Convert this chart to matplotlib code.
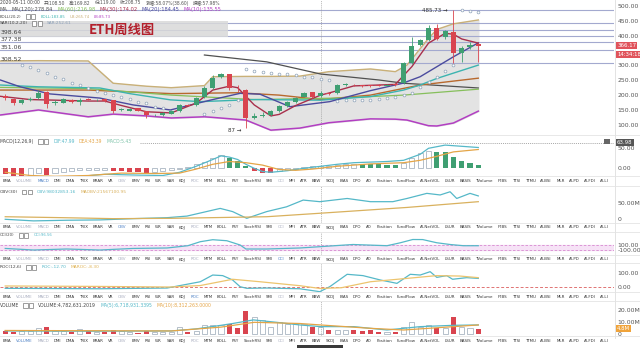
import numpy as np
import matplotlib
matplotlib.use("Agg")
import matplotlib.pyplot as plt
from matplotlib.patches import Rectangle
from matplotlib import font_manager as fm

_names = {f.name for f in fm.fontManager.ttflist}
NARROW = "Liberation Sans Narrow" if "Liberation Sans Narrow" in _names else "DejaVu Sans"
plt.rcParams["font.family"] = [NARROW, "Noto Sans CJK SC", "DejaVu Sans"]
plt.rcParams["axes.unicode_minus"] = False

# ── Data (weekly ETH candles) ───────────────────────────────────
OPEN = [197, 187, 172, 184, 189, 211, 172, 175, 183, 178, 187, 183, 186, 183, 151, 148,
        155, 146, 132, 132, 138, 146, 167, 167, 193, 225, 262, 270, 222, 217, 124, 130,
        133, 146, 164, 178, 195, 209, 197, 208, 206, 235, 234, 233, 232, 233, 232, 237,
        240, 309, 369, 385, 425, 395, 413, 343, 361, 371]
CLOSE = [190, 172, 183, 188, 208, 170, 178, 186, 176, 183, 185, 185, 180, 147, 153, 152,
         148, 133, 133, 140, 146, 167, 165, 191, 225, 259, 270, 223, 220, 124, 131, 134,
         146, 163, 178, 189, 208, 193, 208, 203, 234, 236, 233, 232, 231, 232, 235, 233,
         309, 365, 385, 425, 390, 417, 343, 357, 369, 366.17]
HIGH = [203, 190, 186, 192, 217, 213, 182, 190, 186, 190, 190, 188, 188, 185, 156, 155,
        157, 148, 136, 142, 149, 170, 170, 194, 230, 267, 275, 272, 235, 219, 140, 142,
        149, 166, 181, 192, 212, 212, 215, 212, 238, 240, 236, 235, 234, 236, 238, 240,
        312, 395, 390, 435, 440, 420, 485.73, 365, 378, 375]
LOW = [185, 168, 170, 181, 186, 157, 168, 173, 173, 167, 182, 181, 178, 140, 147, 146,
       145, 124, 128, 130, 136, 144, 162, 165, 190, 222, 258, 218, 210, 89, 118, 126,
       131, 143, 160, 175, 192, 190, 194, 199, 203, 230, 229, 228, 227, 229, 230, 230,
       237, 305, 365, 382, 384, 388, 308, 310, 355, 312]
VOLUME_M = [2.7, 2.2, 2.7, 2.7, 5.0, 5.8, 2.7, 2.7, 2.2, 4.4, 2.7, 2.2, 2.2, 3.6, 2.7, 2.2,
            1.5, 2.7, 2.2, 2.2, 2.2, 6.4, 2.2, 2.7, 7.8, 7.8, 7.8, 8.3, 5.6, 19.4, 14.7, 12.0,
            6.4, 10.0, 8.6, 8.6, 8.6, 6.4, 6.4, 3.6, 3.6, 3.6, 3.6, 2.7, 3.6, 2.2, 2.2, 2.2,
            6.4, 10.0, 6.4, 7.8, 5.0, 5.0, 14.7, 6.4, 5.6, 4.4]
MACD_HIST = [-15, -19, -21, -16, -11, -16, -12, -8, -6, -5, -4, -3.5, -3, -7, -7.5, -8.5,
             -9, -10.5, -9.5, -7, -5, -1, 4, 12, 17, 25, 33, 25, 19, 5, -6, -12,
             -12.5, -7, -3, -2, 3, 5, 6, 6.5, 9, 10, 12, 11.5, 11, 10, 9.5, 9,
             13, 27, 38, 44, 41, 40, 27.5, 19, 14, 8]

# price-panel lines: (candle index, price) knots
BOLL_IDX = [-0.6, 4, 10, 13, 17, 20, 24, 25, 29, 32, 35.5, 39, 44, 47, 48.4, 51, 52, 54, 57]
BOLL_UB = [315, 316, 315, 240, 230, 225, 232, 262, 263, 263, 264, 279, 288, 279, 301, 391, 421, 440, 453]
BOLL_LB = [133, 150, 127, 136, 130, 123, 127, 125, 116, 82, 89, 107, 120, 119, 116, 97, 96, 106, 146]
MA120_IDX = [24, 31.5, 38, 45, 48, 57]
MA120 = [335, 312, 271, 251, 240, 224]
MA5_IDX = [-0.6, 3, 6, 10, 12, 14, 17, 20, 23, 25, 27, 28, 30, 32, 33, 35, 38, 39, 42, 47, 49, 51, 53, 54, 55, 57]
MA5 = [196, 185, 183, 180, 180, 165, 144, 140, 173, 217, 230, 225, 167, 130, 135, 165, 200, 207, 231, 236, 296, 375, 408, 405, 389, 375]
MA10_IDX = [-0.6, 1.8, 5.4, 11.4, 15.4, 19.9, 24.7, 28.3, 30.7, 34.3, 39.1, 44, 47.9, 50, 54, 57]
MA10 = [251, 228, 204, 190, 167, 150, 183, 206, 203, 161, 178, 215, 240, 262, 329, 376]
MA20_IDX = [-0.6, 4, 11.4, 15, 19.9, 23.5, 30, 38, 44, 48, 50, 52, 57]
MA20 = [234, 228, 224, 205, 184, 178, 185, 183, 195, 217, 234, 256, 301]
MA60_IDX = [-0.6, 10, 20, 28, 33, 38, 44, 50, 57]
MA60 = [217, 217, 205, 208, 200, 185, 200, 234, 257]
MA30_IDX = [-0.6, 10, 20, 30, 40, 48, 57]
MA30 = [226, 222, 200, 185, 190, 200, 220]
SAR_IDX = list(range(2, 20)) + list(range(24, 58))
SAR = [301, 294, 285, 275, 262, 254, 242, 234, 223, 215, 206, 200, 195, 186, 178, 172, 161, 155,
       135, 148, 156, 167, 183,
       287, 281, 277, 274, 272, 270, 268, 262, 260, 253, 251,
       181, 183, 183, 184, 185, 187, 190, 195, 200, 206, 228, 245, 260, 282, 301,
       487, 484, 481]
FIB_LEVELS = [485.73, 443.9, 418.0, 398.64, 377.38, 351.06, 308.52]
FIB_LABELS = ["398.64", "377.38", "351.06", "308.52"]

# indicator panels
DIF_IDX = [0, 2, 5, 8, 12, 16, 19, 21, 23, 25, 26, 27, 28, 29, 30, 31, 32, 34, 36, 38, 40, 42, 46, 48, 50, 51, 53, 55, 57]
DIF = [-25, -30, -27, -22, -15, -17, -18, -10, 5, 22, 31, 28, 22, 10, 0, -8, -10, -6, 0, 5, 10, 14, 17, 20, 35, 50, 58, 55, 52]
DEA_IDX = [0, 3, 6, 10, 14, 18, 21, 23, 25, 27, 29, 31, 33, 35, 37, 40, 44, 48, 50, 52, 54, 57]
DEA = [-10, -18, -20, -18, -12, -13, -12, -2, 10, 17, 14, 8, -3, -5, -2, 5, 11, 14, 20, 30, 41, 47]
OBV_IDX = [0, 3.4, 7.4, 11.4, 15.4, 19.5, 21.9, 25.9, 27.4, 29.1, 31.5, 33.9, 35.9, 37.9, 41.2, 44, 46.7, 48.4, 50.8, 52.4, 53.6, 54.4, 56, 57]
OBV_M = [0, -5, -3, -2, 2, 5, 10, 34, 24, 3, 24, 39, 60, 55, 65, 55, 55, 65, 81, 76, 86, 65, 81, 73]
MAOBV_IDX = [0, 7, 13, 20, 27, 31.5, 38, 48.4, 57]
MAOBV_M = [8, 5, 2, 3, 6, 8, 19, 37, 55]
CCI_IDX = [0, 3.4, 7.4, 11.4, 15.4, 19.5, 22, 23.5, 25, 26.7, 28.3, 29, 31.5, 35.5, 37.9, 41.9, 46, 47.6, 49.1, 50.3, 52, 53.6, 55.2, 57]
CCI = [-36, -90, -55, -90, -36, -20, 58, 196, 265, 230, 83, -55, -55, -20, 24, 100, 58, 159, 272, 270, 160, 100, 58, 58]
ROC_IDX = [0, 11.4, 19.5, 23.5, 25, 26.2, 27.4, 28.3, 29.1, 31.5, 35.5, 37.9, 39.1, 41.2, 43.1, 45.2, 47.2, 48.8, 50, 51.2, 52, 53.2, 53.9, 55.6, 57]
ROC = [-7, -10, -5, 38, 84, 80, 50, 4, -7, -5, -10, -30, 4, 89, 80, 50, 27, 89, 84, 107, 68, 80, 55, 66, 61]
MAROC_IDX = [0, 11.4, 19.9, 23.5, 27.4, 30.7, 35.5, 37.9, 40.5, 44, 48.4, 52, 54.8, 57]
MAROC = [9, 6, 2, 12, 55, 38, 11, -8, -3, 38, 61, 80, 77, 66]
VMA5_IDX = [0, 10, 20, 23, 26, 27.4, 29.9, 32.7, 35.5, 38, 42, 46, 50, 54, 57]
VMA5 = [2.8, 2.6, 2.8, 4.5, 7.5, 9, 12, 10, 7.8, 6.4, 6.4, 3.6, 6.4, 7.5, 7.8]
VMA10_IDX = [0, 10, 20, 26, 30, 35.5, 38, 44, 48, 54, 57]
VMA10 = [3.2, 3.0, 2.8, 6.0, 10, 9, 7.8, 5, 3.6, 6.4, 7.8]

TABS = ["EMA", "VOLUME", "MACD", "DMI", "DMA", "TRIX", "BRAR", "VR", "OBV", "EMV", "RSI", "WR",
        "SAR", "KDJ", "ROC", "MTM", "BOLL", "PSY", "StochRSI", "SMI", "CCI", "MFI", "ATR", "BBW",
        "SKDJ", "BIAS", "DPO", "AO", "Position", "FundFlow", "AI-NetVOL", "LSUR", "BASIS",
        "TVolume", "FTBS", "TTSI", "TTMU", "AI-BSI", "MLR", "AI-PD", "AI-FDI", "AI-LI"]
SHOWN = ["VOLUME", "MACD", "OBV", "ROC", "CCI"]

# ── Styling ─────────────────────────────────────────────────────
W, H = 640, 348
RED, GREEN, HOLLOW = "#d9444f", "#3f9f72", "#a9b5c2"
TEAL, ORANGE = "#55b8c8", "#e4a547"
TXT, FS = "#555555", 4.4
X0, X1 = -0.63, 73.35   # candle spacing ~8.3 px, plot area 0..614 px

fig = plt.figure(figsize=(W / 100, H / 100), dpi=100)
fig.patch.set_facecolor("white")


def panel(y0, y1, ylim, ticks, labels):
    ax = fig.add_axes([0, 1 - y1 / H, 614 / W, (y1 - y0) / H])
    ax.set_xlim(X0, X1)
    ax.set_ylim(*ylim)
    for s in ax.spines.values():
        s.set_visible(False)
    ax.set_xticks([])
    ax.yaxis.tick_right()
    ax.set_yticks(ticks)
    ax.set_yticklabels(labels)
    ax.tick_params(axis="y", length=0, labelsize=FS, labelcolor=TXT, pad=2.5)
    ax.axvline(38, color="#9a9a9a", lw=0.5, ls=(0, (1.5, 1.5)))
    return ax


def tag(ax, y, s, fc):
    ax.text(1.005, y, s, transform=ax.get_yaxis_transform(), fontsize=3.9, color="white",
            va="center", bbox=dict(boxstyle="square,pad=0.2", fc=fc, ec="none"))


# ── Price panel ────────────────────────────────────────────────
ax = panel(0, 135, (65.7, 520.2), [500, 450, 400, 300, 250, 200, 150, 100],
           ["500.00", "450.00", "400.00", "300.00", "250.00", "200.00", "150.00", "100.00"])
for lv in FIB_LEVELS:
    ax.axhline(lv, color="#a3a9cf", lw=0.8, zorder=1)
ax.fill_between(BOLL_IDX, BOLL_LB, BOLL_UB, color="#e3e3e3", zorder=0)
ax.plot(BOLL_IDX, BOLL_UB, color="#c9b078", lw=1)
ax.plot(BOLL_IDX, BOLL_LB, color="#b23ec2", lw=1.1)
ax.plot(MA120_IDX, MA120, color="#505050", lw=0.9)
ax.plot(MA60_IDX, MA60, color="#b8692e", lw=1)
ax.plot(MA30_IDX, MA30, color="#86bf5c", lw=0.9)
ax.plot(MA20_IDX, MA20, color="#3cb4b0", lw=1)
ax.plot(MA10_IDX, MA10, color="#4b4b9e", lw=1)
ax.plot(MA5_IDX, MA5, color="#a8304c", lw=1)
ax.scatter(SAR_IDX, SAR, s=4, facecolors="white", edgecolors="#8ea2b8", linewidths=0.5, zorder=4)

idx = np.arange(len(OPEN))
o, c = np.array(OPEN, float), np.array(CLOSE, float)
up = c >= o
cols = np.where(up, GREEN, RED)
ax.vlines(idx, LOW, HIGH, colors=cols, lw=0.6, zorder=5)
body = np.maximum(np.abs(c - o), 1.5)
ax.bar(idx, body, bottom=np.minimum(o, c), width=0.62, color=cols, zorder=6)
tag(ax, CLOSE[-1], "366.17", "#e0535b")
tag(ax, 338, "14:34:18", "#e0535b")
ax.annotate("485.73 →", (54, 485.73), xytext=(-4, 0), textcoords="offset points",
            ha="right", va="center", fontsize=4, color="#333")
ax.annotate("87 →", (29, 89), xytext=(-3, -2), textcoords="offset points",
            ha="right", va="center", fontsize=4, color="#333")

# ── MACD ───────────────────────────────────────────────────────
ax = panel(135, 176, (-19.25, 83.25), [50, 0], ["50.00", "0.00"])
hist = np.array(MACD_HIST, float)
prev = np.concatenate([[hist[0]], hist[:-1]])
for i, v in enumerate(hist):
    grow = abs(v) >= abs(prev[i])
    if v < 0 and grow:
        ax.bar(i, v, width=0.62, color=RED)
    elif v > 0 and not grow:
        ax.bar(i, v, width=0.62, color=GREEN)
    else:
        ax.bar(i, v, width=0.62, facecolor="white", edgecolor=HOLLOW, lw=0.6)
ax.plot(DIF_IDX, DIF, color=TEAL, lw=0.9)
ax.plot(DEA_IDX, DEA, color=ORANGE, lw=0.9)
ax.axhline(63.98, xmin=140 / 614, color="#888", lw=0.5, ls=(0, (1.5, 1.5)))
tag(ax, 63.98, "63.98", "#555")

# ── OBV ────────────────────────────────────────────────────────
ax = panel(186, 223, (-11.6, 104), [50, 0], ["50.00M", "0"])
ax.plot(OBV_IDX, OBV_M, color=TEAL, lw=0.9)
ax.plot(MAOBV_IDX, MAOBV_M, color="#d9b15e", lw=0.9)

# ── CCI ────────────────────────────────────────────────────────
ax = panel(232, 255, (-262, 531), [100, -100], ["100.00", "-100.00"])
ax.axhspan(-100, 100, color="#f6e2f6", zorder=0)
for lv in (100, -100):
    ax.axhline(lv, color="#d78ad0", lw=0.6, ls=(0, (3, 2)))
ax.plot(CCI_IDX, CCI, color=TEAL, lw=0.9)

# ── ROC ────────────────────────────────────────────────────────
ax = panel(263, 292, (-32.2, 166.4), [100, 0], ["100.00", "0.00"])
ax.axhline(0, color="#e07373", lw=0.7, ls=(0, (3, 2)))
ax.plot(ROC_IDX, ROC, color=TEAL, lw=0.9)
ax.plot(MAROC_IDX, MAROC, color="#ecc46e", lw=0.9)

# ── VOLUME ─────────────────────────────────────────────────────
ax = panel(301, 336, (-1.4, 27.75), [20, 10, 0], ["20.00M", "10.00M", "0"])
for i, v in enumerate(VOLUME_M):
    if up[i]:
        ax.bar(i, v, width=0.62, facecolor="white", edgecolor=HOLLOW, lw=0.6)
    else:
        ax.bar(i, v, width=0.62, color=RED)
ax.plot(VMA5_IDX, VMA5, color=TEAL, lw=0.9)
ax.plot(VMA10_IDX, VMA10, color=ORANGE, lw=0.9)
tag(ax, 4.8, "4.8M", "#f0a33a")

# ── Overlay: headers, tab rows, separators ─────────────────────
ov = fig.add_axes([0, 0, 1, 1], zorder=10)
ov.set_xlim(0, W)
ov.set_ylim(H, 0)
ov.axis("off")
ov.patch.set_alpha(0)
r = fig.canvas.get_renderer()

ov.add_patch(Rectangle((0, 21), 228, 16, fc="#d9d9d9", ec="none", alpha=0.85, zorder=0))
ov.text(122, 29.5, "ETH周线图", fontsize=9.5, fontweight="bold", color="#b3202c",
        ha="center", va="center", family=["Noto Sans CJK SC", "DejaVu Sans"])
ov.plot([614.5, 614.5], [0, 338], color="#dedede", lw=0.6)
for y in (135, 176, 186, 223, 232, 255, 263, 292, 301, 336):
    ov.plot([0, 640], [y, y], color="#e4e4e4", lw=0.6)


def seq(x, y, parts, end, gap=4):
    """Lay out coloured header pieces from x so the row ends near `end`."""
    texts, icons = [], 0
    for s, col in parts:
        if s == "ICON":
            icons += 1
            texts.append(None)
        else:
            texts.append(ov.text(x, y, s, color=col, fontsize=FS, va="center"))
    widths = [t.get_window_extent(r).width if t else 0 for t in texts]
    room = end - x - gap * (len(parts) - 1) - icons * 11
    size = FS * min(1.1, room / sum(widths))
    for t in texts:
        if t:
            t.set_fontsize(size)
    for t in texts:
        if t is None:
            for k in range(2):
                ov.add_patch(Rectangle((x + k * 5.5, y - 2.2), 4.2, 4.4, fc="white", ec="#777", lw=0.5))
            x += 11 + gap
        else:
            t.set_x(x)
            x += t.get_window_extent(r).width + gap


seq(0, 3, [("2020-05-11 00:00", "#444"), ("开:108.50", "#555"), ("高:169.82", "#555"),
           ("低:119.00", "#555"), ("收:208.75", "#555"), ("涨幅:58.07%(38.60)", "#555"),
           ("振幅:57.98%", "#555")], 226)
seq(0, 9.5, [("MA", "#555"), ("MA(120):278.84", "#505050"), ("MA(60):216.98", "#86bf5c"),
             ("MA(30):174.02", "#a8304c"), ("MA(20):184.45", "#4b4b9e"), ("MA(10):135.55", "#b23ec2")], 220)
seq(0, 16.5, [("BOLL(20,2)", "#444"), ("ICON", ""), ("BOLL:183.85", "#3cb4b0"),
              ("UB:265.74", "#c9b078"), ("LB:85.73", "#b23ec2")], 110)
seq(0, 23.5, [("SAR(10,2,20)", "#444"), ("ICON", ""), ("SAR:252.61", "#8ea2b8")], 73)
for lab, lv in zip(FIB_LABELS, FIB_LEVELS[3:]):
    ov.text(1, 6 + (500 - lv) * 0.297 - 3.2, lab, fontsize=FS, color="#444", va="center")

seq(0, 141.5, [("MACD(12,26,9)", "#444"), ("ICON", ""), ("DIF:47.99", TEAL),
               ("DEA:43.39", ORANGE), ("MACD:5.43", "#7cc2a8")], 132)
seq(0, 192, [("OBV(30)", "#444"), ("ICON", ""), ("OBV:98032853.16", TEAL),
             ("MAOBV:21567100.95", "#d9b15e")], 127)
seq(0, 235.5, [("CCI(20)", "#444"), ("ICON", ""), ("CCI:96.56", TEAL)], 52)
seq(0, 267.5, [("ROC(12,6)", "#444"), ("ICON", ""), ("ROC:-12.70", TEAL),
               ("MAROC:-8.30", "#e0b458")], 100)
seq(0, 305.5, [("VOLUME", "#444"), ("ICON", ""), ("VOLUME:4,782,631.2019", "#444"),
               ("MA(5):6,718,931.3395", TEAL), ("MA(10):8,312,263.0000", ORANGE)], 210)

ov.add_patch(Rectangle((604, 138.5), 6, 5, fc="#666", ec="none"))

TAB_FS = 4.9
for y, own in ((181, "MACD"), (227.5, "OBV"), (259.5, "CCI"), (296.8, "ROC"), (340.8, "VOLUME")):
    texts = []
    for name in TABS:
        col = "#4a7fc4" if name == own else ("#a8adbf" if name in SHOWN else "#333333")
        texts.append(ov.text(0, y, name, fontsize=TAB_FS, color=col, va="center"))
    widths = [t.get_window_extent(r).width for t in texts]
    span = 609 - 3
    if sum(widths) + 41 * 4.5 > span:
        k = (span - 41 * 4.5) / sum(widths)
        for t in texts:
            t.set_fontsize(TAB_FS * k)
        widths = [w * k for w in widths]
    gap = (span - sum(widths)) / (len(texts) - 1)
    x = 3
    for t, w in zip(texts, widths):
        t.set_x(x)
        x += w + gap

ov.add_patch(Rectangle((297, 344.5), 46, 4, fc="#3a3a3a", ec="none"))

fig.savefig("out.png", dpi=100, facecolor="white")
